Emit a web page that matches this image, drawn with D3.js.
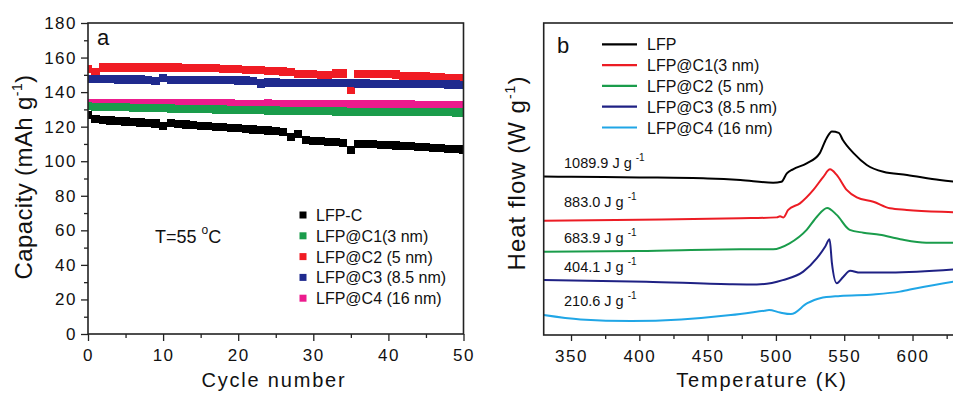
<!DOCTYPE html>
<html><head><meta charset="utf-8">
<script src="https://cdn.jsdelivr.net/npm/d3@7"></script>
<style>
body{margin:0;background:#fff}
text{font-family:"Liberation Sans",Arial,sans-serif;fill:#111}
</style>
</head><body>
<svg id="c" width="953" height="394" xmlns="http://www.w3.org/2000/svg"></svg>
<script>
// ---------- Panel a data ----------
const cycles = [0,1,2,3,4,5,6,7,8,9,10,11,12,13,14,15,16,17,18,19,20,21,22,23,24,25,26,27,28,29,30,31,32,33,34,35,36,37,38,39,40,41,42,43,44,45,46,47,48,49,50];
const capLFPC = [126.7,124.4,124.0,123.6,123.3,123.0,122.7,122.4,122.1,121.8,120.3,122.2,121.5,121.2,120.9,120.6,120.3,120.0,119.7,119.3,119.0,118.7,118.4,118.1,117.8,117.5,117.1,114.2,115.7,112.2,111.8,111.5,111.2,110.9,110.5,106.5,110.0,110.0,109.8,109.6,109.4,109.1,108.8,108.6,108.3,108.1,107.8,107.5,107.2,107.0,106.8];
const capC1 = [131.8,131.6,131.5,131.4,131.3,131.2,131.0,130.9,130.8,130.7,130.6,130.5,130.4,130.3,130.2,130.1,130.0,129.9,129.9,129.8,129.7,129.6,129.5,129.5,129.4,129.3,129.2,129.2,129.1,129.0,129.0,128.9,128.9,128.8,128.8,128.7,128.7,128.6,128.6,128.6,128.5,128.5,128.5,128.4,128.4,128.4,128.3,128.3,128.3,128.2,128.2];
const capC2 = [153.2,151.8,154.2,154.2,154.2,154.2,154.2,154.2,154.2,154.2,154.2,154.2,154.2,154.1,154.0,154.0,153.9,153.8,153.6,153.4,153.2,153.0,152.8,152.6,152.3,152.1,151.9,151.6,150.7,150.6,150.5,149.7,149.7,150.8,150.8,141.3,150.6,150.6,150.5,150.5,150.4,150.2,149.2,149.1,149.0,149.0,148.9,148.8,148.3,148.1,148.0];
const capC3 = [147.4,147.4,147.4,147.4,147.3,147.3,147.3,147.3,147.2,146.3,148.3,147.2,147.1,147.1,147.0,147.0,146.9,146.9,146.8,146.8,146.7,146.7,146.6,145.0,145.6,145.6,145.5,145.5,145.4,145.4,145.3,145.3,145.2,145.2,145.1,145.1,145.0,145.0,144.9,144.9,144.8,144.8,144.7,144.7,144.6,144.6,144.5,144.5,144.4,144.4,144.3];
const capC4 = [133.7,133.7,133.6,133.6,133.6,133.6,133.5,133.5,133.5,133.6,133.5,133.5,133.5,133.4,133.4,133.4,133.5,133.4,133.4,133.4,133.3,133.3,133.3,133.3,133.4,133.3,133.2,133.2,133.2,133.1,133.1,133.1,133.0,133.0,133.0,133.0,132.9,132.9,132.9,132.9,132.8,132.8,132.8,132.8,132.7,132.7,132.7,132.7,132.6,132.6,132.6];
const namesA = ["LFP-C","LFP@C1(3 nm)","LFP@C2 (5 nm)","LFP@C3 (8.5 nm)","LFP@C4 (16 nm)"];
const xTicksA = [0,10,20,30,40,50];
const yTicksA = [0,20,40,60,80,100,120,140,160,180];

// ---------- Panel b data (T in K, heat flow in arbitrary offset units) ----------
const dscLFP = [[330,5.08],[350,5.07],[400,5.05],[450,5.02],[474,4.97],[498,4.88],[504,4.91],[508,5.18],[512.5,5.31],[522.5,5.50],[532,5.82],[537,6.30],[541,6.52],[546,6.48],[549,6.25],[557,5.82],[566.5,5.45],[578.6,5.23],[596,5.13],[620,4.97],[640,4.88]];
const dscC1 = [[330,3.66],[400,3.69],[474,3.74],[500.6,3.77],[503,3.81],[505.5,3.77],[509,4.01],[517.6,4.22],[527.4,4.65],[534.7,5.07],[539.6,5.31],[544.5,5.13],[551.8,4.65],[559.2,4.41],[571.3,4.27],[583.5,4.06],[595.8,4.01],[630,3.93],[640,3.91]];
const dscC2 = [[330,2.67],[400,2.69],[474,2.75],[498,2.75],[510,2.94],[522.5,3.37],[530,3.79],[537.5,4.07],[544.5,3.85],[554,3.37],[564,3.28],[576,3.21],[591,3.07],[610,2.96],[640,2.96]];
const dscC3 = [[330,1.76],[405,1.71],[466,1.63],[486,1.62],[497,1.67],[505,1.76],[520,2.03],[530,2.46],[536,2.83],[539.3,3.07],[541,2.30],[544.5,1.66],[549.4,1.87],[554.3,2.06],[561.6,2.00],[583.5,2.00],[640,2.13]];
const dscC4 = [[330,0.64],[357,0.50],[394,0.45],[430.6,0.50],[467,0.64],[491.5,0.78],[495,0.80],[503,0.72],[511,0.67],[523,1.02],[532.3,1.18],[547,1.25],[571.3,1.30],[590.8,1.39],[603,1.50],[630,1.71],[640,1.78]];
const namesB = ["LFP","LFP@C1(3 nm)","LFP@C2 (5 nm)","LFP@C3 (8.5 nm)","LFP@C4 (16 nm)"];
const enthalpies = ["1089.9","883.0","683.9","404.1","210.6"];
const xTicksB = [350,400,450,500,550,600];

// ---------- drawing ----------
const svg = d3.select("#c");
const colA = ["#000000","#1a9c4b","#f01c24","#1f2a8e","#ec1b8d"];
const colB = ["#000000","#ec1c24","#1a9c4b","#1f2184","#20a6e6"];
const frameCol = "#222";

// Panel a
const xa = d3.scaleLinear().domain([0,50]).range([88,463.5]);
const ya = d3.scaleLinear().domain([0,180]).range([334,23]);
svg.append("clipPath").attr("id","clipA").append("rect")
  .attr("x",xa(0)).attr("y",ya(180)).attr("width",xa(50)-xa(0)).attr("height",ya(0)-ya(180));

const seriesA = [capLFPC, capC1, capC2, capC3, capC4];
const order = [0,2,4,1,3];
const gA = svg.append("g").attr("clip-path","url(#clipA)");
const ms = 8.2;
order.forEach(i=>{
  gA.append("g").attr("shape-rendering","crispEdges").selectAll("rect").data(cycles).join("rect")
    .attr("x",c=>xa(c)-ms/2).attr("y",(c,j)=>ya(seriesA[i][j])-ms/2)
    .attr("width",ms).attr("height",ms).attr("fill",colA[i]);
});

// axes a
const axA = svg.append("g").attr("transform",`translate(0,${ya(0)})`)
  .call(d3.axisBottom(xa).tickValues(xTicksA).tickSize(7).tickSizeOuter(0).tickPadding(8));
svg.append("g").attr("transform",`translate(0,${ya(0)})`)
  .call(d3.axisBottom(xa).tickValues([5,15,25,35,45]).tickSize(4).tickFormat("").tickSizeOuter(0));
const ayA = svg.append("g").attr("transform",`translate(${xa(0)},0)`)
  .call(d3.axisLeft(ya).tickValues(yTicksA).tickSize(7).tickSizeOuter(0).tickPadding(4));
svg.append("g").attr("transform",`translate(${xa(0)},0)`)
  .call(d3.axisLeft(ya).tickValues([10,30,50,70,90,110,130,150,170]).tickSize(4).tickFormat("").tickSizeOuter(0));
svg.selectAll(".domain").remove();
svg.selectAll(".tick line").attr("stroke",frameCol).attr("stroke-width",1.3);
[axA, ayA].forEach(a=>a.selectAll("text").attr("font-size",17).attr("fill","#111")
  .attr("font-family",'"Liberation Sans",Arial,sans-serif').attr("letter-spacing","1.5px"));
svg.append("rect").attr("x",xa(0)).attr("y",ya(180)).attr("width",xa(50)-xa(0)).attr("height",ya(0)-ya(180))
  .attr("fill","none").attr("stroke",frameCol).attr("stroke-width",1.6);

svg.append("text").attr("x",97).attr("y",45).attr("font-size",22).text("a");
const tA = svg.append("text").attr("x",155).attr("y",243).attr("font-size",18);
tA.append("tspan").text("T=55 ");
tA.append("tspan").attr("dy",-9).attr("font-size",12).text("o");
tA.append("tspan").attr("dy",9).text("C");

// legend a
namesA.forEach((n,i)=>{
  const cy = 215 + i*20.8;
  svg.append("rect").attr("x",303-3.5).attr("y",cy-3.5).attr("width",7).attr("height",7).attr("fill",colA[i]);
  svg.append("text").attr("x",316).attr("y",cy+6).attr("font-size",16).text(n);
});

// titles a
svg.append("text").attr("x",274).attr("y",387).attr("text-anchor","middle")
  .attr("font-size",20).attr("letter-spacing","1.8px").text("Cycle number");
const ytA = svg.append("text").attr("transform","translate(32,177) rotate(-90)")
  .attr("text-anchor","middle").attr("font-size",24).attr("letter-spacing","0.4px");
ytA.append("tspan").text("Capacity (mAh g");
ytA.append("tspan").attr("dy",-10).attr("font-size",14).text("-1");
ytA.append("tspan").attr("dy",10).text(")");

// Panel b
const xb = d3.scaleLinear().domain([330,640]).range([543.7,543.7+310*1.366]);
const yb = d3.scaleLinear().domain([0,10]).range([335,23]);
svg.append("clipPath").attr("id","clipB").append("rect")
  .attr("x",xb(330)).attr("y",yb(10)).attr("width",xb(640)-xb(330)).attr("height",yb(0)-yb(10));
const seriesB = [dscLFP, dscC1, dscC2, dscC3, dscC4];
const line = d3.line().x(d=>xb(d[0])).y(d=>yb(d[1])).curve(d3.curveMonotoneX);
const gB = svg.append("g").attr("clip-path","url(#clipB)");
seriesB.forEach((s,i)=>{
  gB.append("path").datum(s).attr("d",line).attr("fill","none")
    .attr("stroke",colB[i]).attr("stroke-width",2).attr("stroke-linejoin","round");
});

const axB = svg.append("g").attr("class","axb").attr("transform",`translate(0,${yb(0)})`)
  .call(d3.axisBottom(xb).tickValues(xTicksB).tickSize(6).tickSizeOuter(0).tickPadding(9));
const axB2 = svg.append("g").attr("transform",`translate(0,${yb(0)})`)
  .call(d3.axisBottom(xb).tickValues([375,425,475,525,575,625]).tickSize(4).tickFormat("").tickSizeOuter(0));
[axB, axB2].forEach(a=>{a.select(".domain").remove(); a.selectAll(".tick line").attr("stroke",frameCol).attr("stroke-width",1.3);});
axB.selectAll("text").attr("font-size",17).attr("fill","#111")
  .attr("font-family",'"Liberation Sans",Arial,sans-serif').attr("letter-spacing","1.5px");
svg.append("rect").attr("x",xb(330)).attr("y",yb(10)).attr("width",xb(640)-xb(330)).attr("height",yb(0)-yb(10))
  .attr("fill","none").attr("stroke",frameCol).attr("stroke-width",1.6);

svg.append("text").attr("x",557).attr("y",53).attr("font-size",22).text("b");

// legend b
namesB.forEach((n,i)=>{
  const cy = 44.3 + i*20.8;
  svg.append("line").attr("x1",602).attr("x2",637).attr("y1",cy).attr("y2",cy)
    .attr("stroke",colB[i]).attr("stroke-width",2.2);
  svg.append("text").attr("x",647).attr("y",cy+6).attr("font-size",16).text(n);
});

// enthalpy labels
const labY = [168,207,243,272,306];
enthalpies.forEach((e,i)=>{
  const t = svg.append("text").attr("x",564).attr("y",labY[i]).attr("font-size",14.5);
  t.append("tspan").text(e+" J g ");
  t.append("tspan").attr("dy",-7).attr("font-size",10).text("-1");
});

svg.append("text").attr("x",762).attr("y",387).attr("text-anchor","middle")
  .attr("font-size",20).attr("letter-spacing","1.8px").text("Temperature (K)");
const ytB = svg.append("text").attr("transform","translate(525,173) rotate(-90)")
  .attr("text-anchor","middle").attr("font-size",24).attr("letter-spacing","1px");
ytB.append("tspan").text("Heat flow  (W g");
ytB.append("tspan").attr("dy",-10).attr("font-size",14).text("-1");
ytB.append("tspan").attr("dy",10).text(")");
</script>
</body></html>
